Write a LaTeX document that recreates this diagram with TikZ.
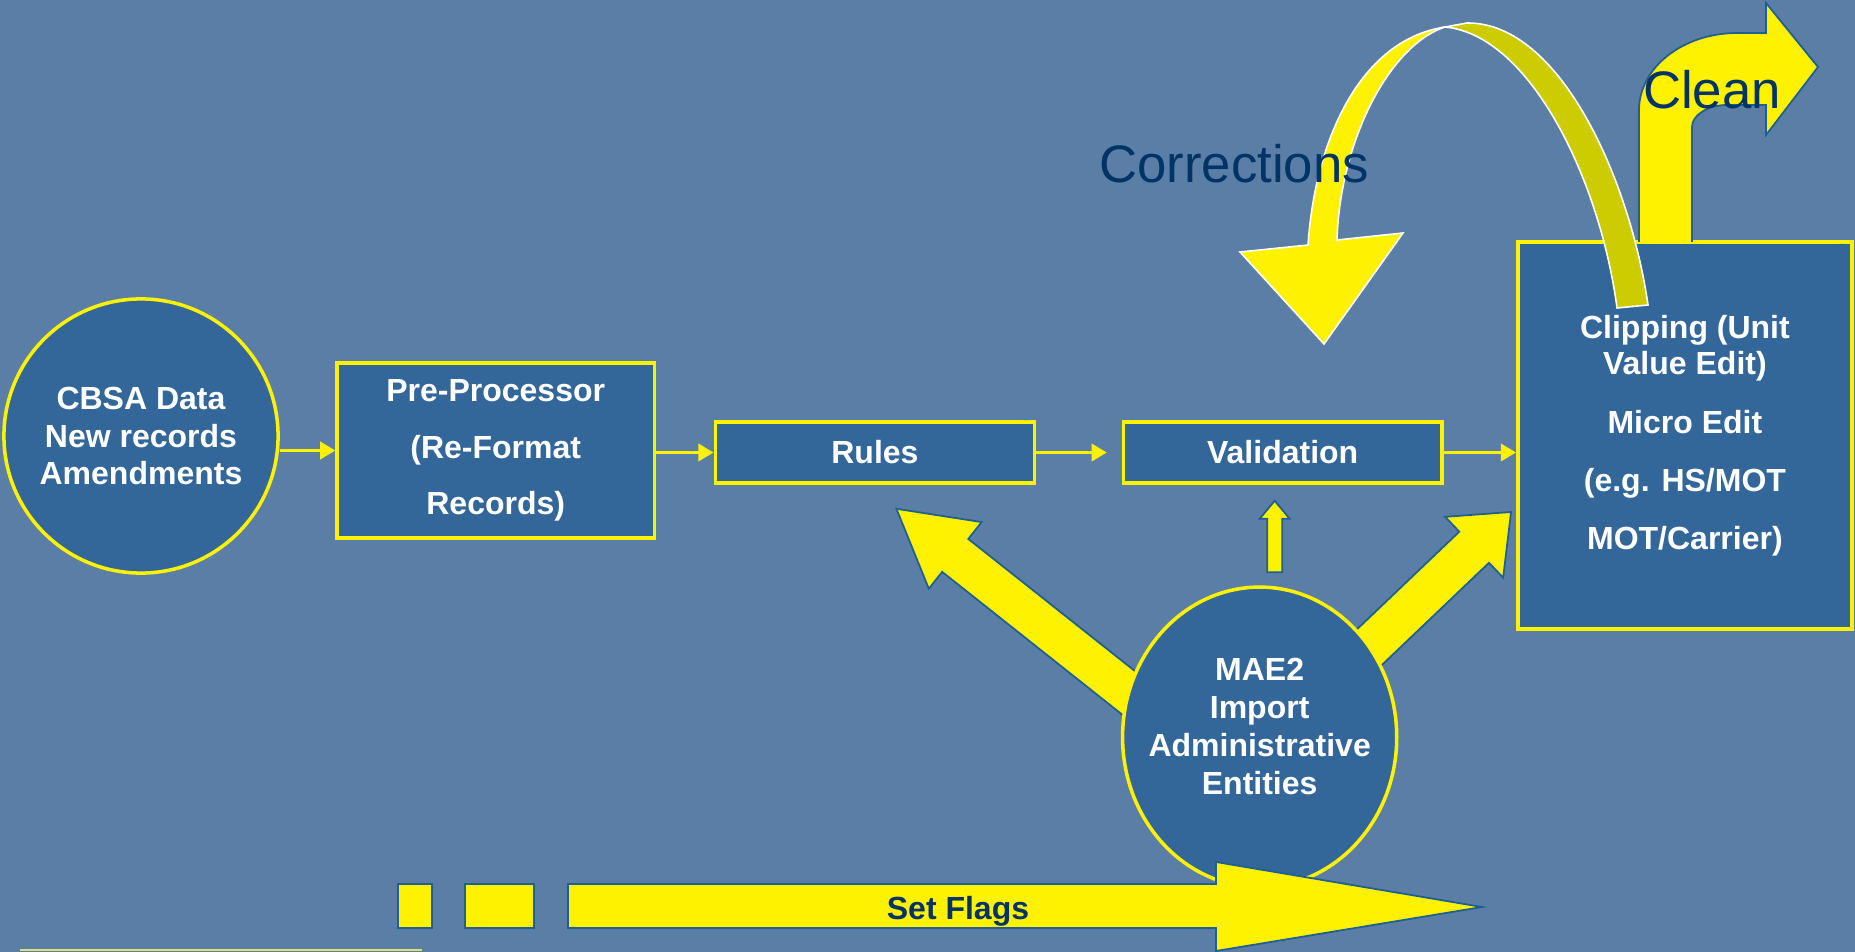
\documentclass[tikz,border=0pt]{standalone}
\usepackage{fontspec}
\setmainfont{Liberation Sans}
\usepackage{tikz}
\usetikzlibrary{positioning,arrows.meta,shapes.geometric,calc,backgrounds}
\definecolor{slide}{RGB}{90,126,166}
\definecolor{boxblue}{RGB}{51,102,153}
\definecolor{navy}{RGB}{0,51,102}
\definecolor{rim}{RGB}{31,95,145}
\definecolor{olive}{RGB}{204,204,0}
\definecolor{pale}{RGB}{224,224,112}
% block arrow: tail, tip, half shaft, half head, head length
\newcommand{\fatarrow}[5]{%
    \coordinate (fatT) at (#1);
    \coordinate (fatH) at (#2);
    \coordinate (fatB) at ($(fatH)!#5!(fatT)$);
    \draw[fat] ($(fatT)!#3!90:(fatH)$) -- ($(fatB)!#3!90:(fatH)$) -- ($(fatB)!#4!90:(fatH)$) -- (fatH)
        -- ($(fatB)!#4!-90:(fatH)$) -- ($(fatB)!#3!-90:(fatH)$) -- ($(fatT)!#3!-90:(fatH)$) -- cycle;}

\begin{document}
\begin{tikzpicture}[x=0.01cm,y=-0.01cm,font=\fontsize{9.1}{10.8}\selectfont\bfseries]
    \tikzstyle{box}=[on grid, draw=yellow, line width=1pt, fill=boxblue, text=white, align=center, inner sep=0pt]
    \tikzstyle{ball}=[box, ellipse, inner xsep=-4.5pt]
    \tikzstyle{link}=[yellow, line width=1.1pt, -{Triangle[length=4.3pt,width=4.8pt]}]
    \tikzstyle{fat}=[fill=yellow, draw=rim, line width=0.5pt]
    \tikzstyle{note}=[text=navy, font=\fontsize{15}{18}\selectfont\mdseries, anchor=base, inner sep=0pt]
    \useasboundingbox (0,0) rectangle (1855,952);
    \begin{scope}[on background layer]
        \fill[slide] (0,0) rectangle (1855,952);
    \end{scope}

    \node[ball, minimum width=2.74cm, minimum height=2.74cm] (cbsa) at (141,436) {CBSA Data\\New records\\Amendments};
    \node[box, below right=0.145cm and 3.545cm of cbsa, minimum width=3.17cm, minimum height=1.75cm] (pre) {Pre-Processor\\[5.3pt](Re-Format\\[5.3pt]Records)};
    \node[box, below right=0.02cm and 3.79cm of pre, minimum width=3.19cm, minimum height=0.61cm] (rules) {Rules};
    \node[box, right=4.075cm of rules, minimum width=3.18cm, minimum height=0.61cm] (val) {Validation};
    \node[box, above right=0.17cm and 4.02cm of val, minimum width=3.34cm, minimum height=3.87cm] (clip) {Clipping (Unit\\[-0.6pt]Value Edit)\\[6pt]Micro Edit\\[5.7pt](e.g. HS/MOT\\[5.7pt]MOT/Carrier)};
    \node[ball, below left=2.845cm and 0.23cm of val, minimum width=2.74cm, minimum height=3cm,
        label={[text=white, align=center, yshift=0.11cm]center:MAE2\\Import\\Administrative\\Entities}] (mae) {};

    \draw[link] (cbsa.east |- pre.west) -- (pre.west);
    \draw[link] (pre.east |- rules.west) -- (rules.west);
    \draw[link] (rules.east) -- ($(val.west)+(-15,0)$);
    \draw[link] (val.east) -- (clip.west |- val.east);

    \begin{scope}[on background layer]
        \fatarrow{$(mae)+(-113,-30)$}{$(rules.south)+(21.5,24)$}{0.21cm}{0.425cm}{0.75cm}
        \fatarrow{$(mae.north)+(15,-13)$}{$(val.south)+(-8,16)$}{0.075cm}{0.15cm}{0.18cm}
        \fatarrow{$(mae)+(71,-53)$}{$(clip.west)+(-5,76.5)$}{0.215cm}{0.42cm}{0.51cm}
    \end{scope}

    % corrections ribbon
    \draw[fill=olive, draw=white, line width=0.45pt] (1445,27) .. controls (1530,35) and (1600,180) .. (1617,308)
        -- (1648,305) .. controls (1630,180) and (1560,22) .. (1467,23) -- cycle;
    \draw[fill=yellow, draw=white, line width=0.45pt] (1445,27) .. controls (1360,40) and (1315,140) .. (1308,245)
        -- (1240,252) -- (1324,344) -- (1403,233) -- (1337,240) .. controls (1340,140) and (1390,45) .. (1445,27) -- cycle;
    % clean arrow
    \filldraw[fat] (1639,242) -- (1639,110) .. controls (1639,67.5) and (1683,33) .. (1737,33) -- (1766,33) -- (1766,3)
        -- (1818,67) -- (1766,135) -- (1766,105) -- (1727,105) .. controls (1708,105) and (1692,115) .. (1692,127) -- (1692,242);
    \node[note] (corr) at (1234,183) {Corrections};
    \node[note] (clean) at (1712,109) {Clean};

    % set flags
    \draw[fat] (398,884) rectangle (432,928);
    \draw[fat] (465,884) rectangle (534,928);
    \draw[fat] (568,884) -- (1216,884) -- (1216,862) -- (1482,907) -- (1216,951) -- (1216,928) -- (568,928) -- cycle;
    \node[anchor=base, text=navy, inner sep=0pt] (flags) at (958,919) {Set Flags};
    \draw[pale, line width=0.6pt] (20,950) -- (422,950);
\end{tikzpicture}
\end{document}
